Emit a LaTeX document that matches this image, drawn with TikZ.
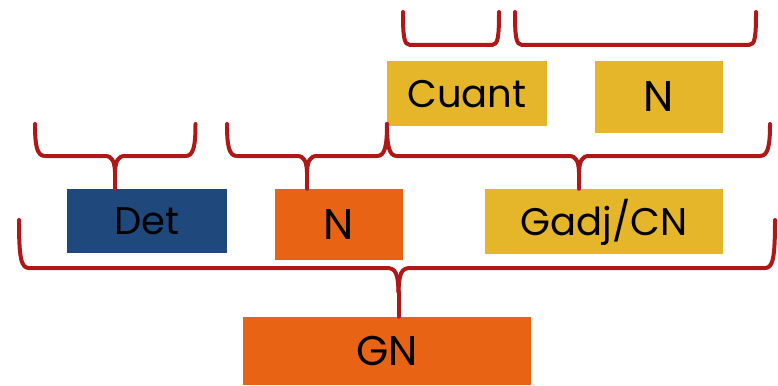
\documentclass[tikz,border=0pt]{standalone}
\usepackage{fontspec}
\setmainfont{Poppins}
\definecolor{bblue}{HTML}{1F497D}
\definecolor{borange}{HTML}{E96314}
\definecolor{byellow}{HTML}{E5B62A}
\definecolor{bred}{HTML}{B01717}
\tikzset{
  brc/.style={draw=bred, line width=4pt, line cap=round, line join=round},
  cat/.style={inner sep=0pt, text height=27pt, text depth=0pt, font=\fontsize{38.5}{40}\selectfont, text=black},
  catbig/.style={cat, text height=30pt, font=\fontsize{43}{45}\selectfont},
  catmid/.style={cat, text height=29pt, font=\fontsize{41.5}{43}\selectfont},
}
% #1 L, #2 R, #3 T (arm ends), #4 H (horizontal), #5 X (tip), #6 flare, #7 depth, #8 name of tip point
\newcommand\tipbrace[8]{%
  \coordinate (#8) at (#5,#4+#7);
  \draw[brc] (#1,#3) .. controls (#1,#4-10) and (#1+2,#4) .. (#1+10,#4)
     -- (#5-#6,#4) .. controls (#5-3,#4) and (#5-0.5,#4+5) .. (#8);
  \draw[brc] (#2,#3) .. controls (#2,#4-10) and (#2-2,#4) .. (#2-10,#4)
     -- (#5+#6,#4) .. controls (#5+3,#4) and (#5+0.5,#4+5) .. (#8);
}
\newcommand\ubrace[4]{%
  \draw[brc] (#1,#3) .. controls (#1,#4-8) and (#1+1,#4) .. (#1+7,#4)
     -- (#2-7,#4) .. controls (#2-1,#4) and (#2,#4-8) .. (#2,#3);
}
\begin{document}
\begin{tikzpicture}[x=1pt,y=-1pt]
\useasboundingbox (0,0) rectangle (778,385);
% boxes
\node[cat, fill=bblue, minimum width=160pt, minimum height=64pt] (det) at (147,221) {Det};
\node[catbig, fill=borange, minimum width=128pt, minimum height=71pt] (no) at (339,224.5) {N};
\node[cat, fill=byellow, minimum width=238pt, minimum height=65pt] (gadj) at (604,221.5) {Gadj/CN};
\node[catmid, fill=borange, minimum width=288pt, minimum height=68pt] (gn) at (387,351) {GN};
\node[cat, fill=byellow, minimum width=160pt, minimum height=65pt] (cuant) at (467,93.5) {Cuant};
\node[catbig, fill=byellow, minimum width=128pt, minimum height=72pt] (ny) at (659,97) {N};
% top braces
\ubrace{403}{499}{12}{45}
\ubrace{515}{756}{12}{45}
% middle braces
\tipbrace{35}{195.5}{124}{156}{115}{10}{16}{tdet}
\draw[brc] (tdet) -- (tdet |- det.north);
\tipbrace{227}{387}{124}{156}{307}{10}{16}{tno}
\draw[brc] (tno) -- (tno |- no.north);
\tipbrace{387}{770}{124}{156}{579}{10}{16}{tgadj}
\draw[brc] (tgadj) -- (tgadj |- gadj.north);
% bottom brace
\tipbrace{19}{775}{220}{268}{398.5}{12}{24}{tgn}
\draw[brc] (tgn) -- (tgn |- gn.north);
\end{tikzpicture}
\end{document}
